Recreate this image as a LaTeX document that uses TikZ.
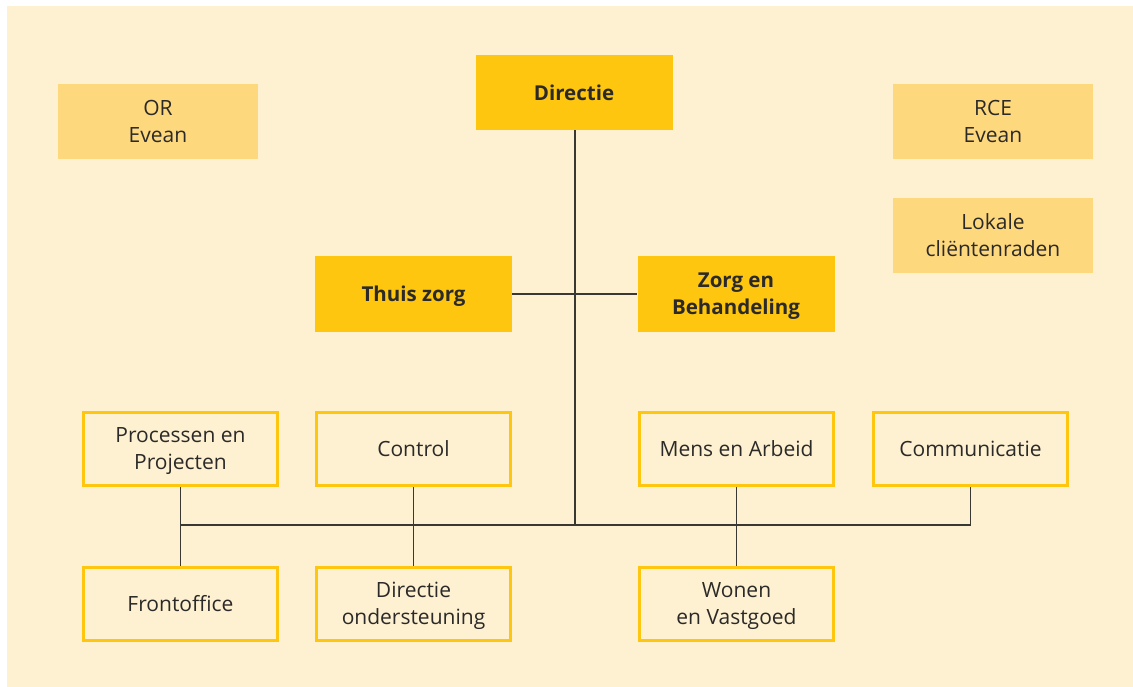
\documentclass[tikz,border=0pt]{standalone}
\usepackage{fontspec}
\setmainfont{Open Sans}
\definecolor{panel}{HTML}{FEF1D1}
\definecolor{lightbox}{HTML}{FED87C}
\definecolor{darkbox}{HTML}{FEC60E}
\definecolor{linec}{HTML}{3A3833}
\definecolor{txt}{HTML}{2B2A29}
\begin{document}
\begin{tikzpicture}[x=1pt,y=-1pt,
  base/.style={minimum width=197pt,minimum height=75pt,inner sep=0pt,align=center,text=txt,text depth=0pt,font=\fontsize{21}{27}\selectfont},
  lightfill/.style={base,fill=lightbox,minimum width=200pt},
  darkfill/.style={base,fill=darkbox,font=\fontsize{20.5}{27}\selectfont\bfseries},
  outlined/.style={base,draw=darkbox,line width=3pt,fill=panel,minimum width=194pt,minimum height=73pt},
  conn/.style={draw=linec,line width=1.4pt}]
\useasboundingbox (0,0) rectangle (1133,687);
\fill[panel] (7,6) rectangle (1133,687);
% top
\node[darkfill] (dir) at (574,92.5) {Directie};
\node[lightfill] (or) at (158,121.5) {OR\\Evean};
\node[lightfill] (rce) at (993,121.5) {RCE\\Evean};
\node[lightfill] (lok) at (993,235.5) {Lokale\\cliëntenraden};
\node[darkfill] (thuis) at (413.5,294) {Thuis zorg};
\node[darkfill] (zorg) at (736,294) {Zorg en\\Behandeling};
% bottom rows
\node[outlined] (proc) at (180.5,449) {Processen en\\Projecten};
\node[outlined] (ctrl) at (413.5,449) {Control};
\node[outlined] (mens) at (736.5,449) {Mens en Arbeid};
\node[outlined] (comm) at (970.5,449) {Communicatie};
\node[outlined] (front) at (180.5,603.5) {Frontoffice};
\node[outlined] (dos) at (413.5,603.5) {Directie\\ondersteuning};
\node[outlined] (won) at (736.5,603.5) {Wonen\\en Vastgoed};
% connectors
\coordinate (bus) at (575,525);
\draw[conn] (dir.south -| bus) -- (bus);
\draw[conn] (thuis.east) -- (zorg.west);
\draw[conn] (proc.south) -- (front.north);
\draw[conn] (ctrl.south) -- (dos.north);
\draw[conn] (mens.south) -- (won.north);
\draw[conn] (proc.south |- bus) -- (comm.south |- bus) -- (comm.south);
\end{tikzpicture}
\end{document}
